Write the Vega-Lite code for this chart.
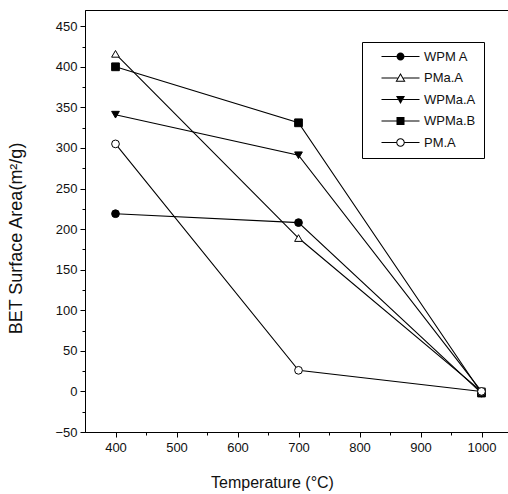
{
  "$schema": "https://vega.github.io/schema/vega-lite/v6.json",
  "autosize": {"type": "none"},
  "width": 427,
  "height": 422,
  "padding": {"left": 85, "top": 10, "right": 0, "bottom": 62},
  "background": "white",
  "config": {
    "view": {"stroke": "black", "strokeWidth": 1},
    "font": "Liberation Sans",
    "axis": {"grid": false, "domainColor": "black", "tickColor": "black", "labelColor": "#111", "titleColor": "#111", "labelFont": "Liberation Sans", "titleFont": "Liberation Sans", "titleFontWeight": "normal", "labelFontSize": 13, "titleFontSize": 16}
  },
  "data": {
    "values": [
      {"series": "WPM A", "temp": 400, "area": 219},
      {"series": "WPM A", "temp": 700, "area": 208},
      {"series": "WPM A", "temp": 1000, "area": -2},
      {"series": "PMa.A", "temp": 400, "area": 416},
      {"series": "PMa.A", "temp": 700, "area": 189},
      {"series": "PMa.A", "temp": 1000, "area": 0},
      {"series": "WPMa.A", "temp": 400, "area": 341},
      {"series": "WPMa.A", "temp": 700, "area": 291},
      {"series": "WPMa.A", "temp": 1000, "area": 0},
      {"series": "WPMa.B", "temp": 400, "area": 400},
      {"series": "WPMa.B", "temp": 700, "area": 331},
      {"series": "WPMa.B", "temp": 1000, "area": -2},
      {"series": "PM.A", "temp": 400, "area": 305},
      {"series": "PM.A", "temp": 700, "area": 26},
      {"series": "PM.A", "temp": 1000, "area": 0}
    ]
  },
  "resolve": {
    "axis": {"x": "independent", "y": "independent"},
    "scale": {"shape": "independent"},
    "legend": {"shape": "independent"}
  },
  "layer": [
    {
      "mark": {"type": "line", "stroke": "black", "strokeWidth": 1.1},
      "encoding": {
        "x": {"field": "temp", "type": "quantitative", "scale": {"domain": [350, 1050], "nice": false, "zero": false}, "axis": {"orient": "bottom", "title": "Temperature (°C)", "format": "d", "values": [400, 500, 600, 700, 800, 900, 1000], "tickSize": 5, "labelPadding": 4, "titlePadding": 20, "titleX": 187}},
        "y": {"field": "area", "type": "quantitative", "scale": {"domain": [-50, 470], "nice": false, "zero": false}, "axis": {"orient": "left", "title": "BET Surface Area(m²/g)", "titleFontSize": 18, "values": [-50, 0, 50, 100, 150, 200, 250, 300, 350, 400, 450], "tickSize": 5, "labelPadding": 3, "titleX": -60, "titleY": 228}},
        "detail": {"field": "series"}
      }
    },
    {
      "mark": {"type": "point", "filled": true, "stroke": "black", "strokeWidth": 1, "size": 60, "opacity": 1},
      "encoding": {
        "x": {"field": "temp", "type": "quantitative", "axis": null},
        "y": {"field": "area", "type": "quantitative", "axis": null},
        "shape": {
          "field": "series", "type": "nominal",
          "scale": {"domain": ["WPM A", "PMa.A", "WPMa.A", "WPMa.B", "PM.A"], "range": ["circle", "triangle-up", "triangle-down", "square", "circle"]},
          "legend": null
        },
        "fill": {
          "field": "series", "type": "nominal",
          "scale": {"domain": ["WPM A", "PMa.A", "WPMa.A", "WPMa.B", "PM.A"], "range": ["black", "white", "black", "black", "white"]},
          "legend": null
        }
      }
    },
    {
      "transform": [{"filter": "datum.temp > 5000"}],
      "mark": {"type": "point", "filled": true, "color": "black", "strokeWidth": 0, "opacity": 1},
      "encoding": {
        "x": {"field": "temp", "type": "quantitative", "axis": null},
        "y": {"field": "area", "type": "quantitative", "axis": null},
        "shape": {
          "field": "series", "type": "nominal",
          "scale": {"domain": ["WPM A", "PMa.A", "WPMa.A", "WPMa.B", "PM.A"], "range": [
            "M-3.8,-0.12H-0.8V0.12H-3.8Z M0.8,-0.12H3.8V0.12H0.8Z M0.8,0A0.8,0.8 0 1,1 -0.8,0A0.8,0.8 0 1,1 0.8,0Z",
            "M-3.8,-0.12H-0.6V0.12H-3.8Z M0.6,-0.12H3.8V0.12H0.6Z M0,-1L1,0.75H-1Z M0,-0.6L-0.655,0.55H0.655Z",
            "M-3.8,-0.12H-0.5V0.12H-3.8Z M0.5,-0.12H3.8V0.12H0.5Z M-0.9,-0.7H0.9L0,0.9Z",
            "M-3.8,-0.12H-0.8V0.12H-3.8Z M0.8,-0.12H3.8V0.12H0.8Z M-0.8,-0.8H0.8V0.8H-0.8Z",
            "M-3.8,-0.12H-0.85V0.12H-3.8Z M0.85,-0.12H3.8V0.12H0.85Z M0.85,0A0.85,0.85 0 1,1 -0.85,0A0.85,0.85 0 1,1 0.85,0Z M0.65,0A0.65,0.65 0 1,0 -0.65,0A0.65,0.65 0 1,0 0.65,0Z"
          ]},
          "legend": {
            "title": null,
            "orient": "none",
            "legendX": 277,
            "legendY": 32,
            "strokeColor": "black",
            "fillColor": "white",
            "padding": 8,
            "symbolSize": 100,
            "symbolOffset": 24,
            "labelOffset": 17,
            "labelFontSize": 13,
            "labelFont": "Liberation Sans",
            "labelColor": "#111",
            "rowPadding": 7.5,
            "symbolFillColor": "black",
            "symbolStrokeWidth": 0
          }
        }
      }
    },
    {
      "mark": {"type": "point", "opacity": 0},
      "encoding": {
        "x": {"field": "temp", "type": "quantitative", "axis": {"orient": "bottom", "title": null, "labels": false, "domain": false, "values": [450, 550, 650, 750, 850, 950], "tickSize": 3}},
        "y": {"field": "area", "type": "quantitative", "axis": {"orient": "left", "title": null, "labels": false, "domain": false, "values": [-25, 25, 75, 125, 175, 225, 275, 325, 375, 425], "tickSize": 3}}
      }
    }
  ]
}
